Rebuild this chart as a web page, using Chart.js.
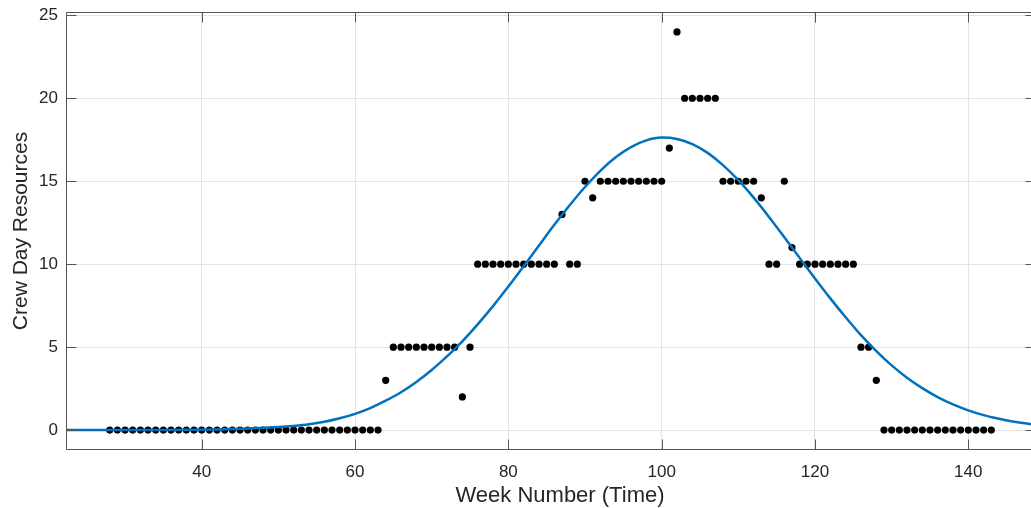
<!DOCTYPE html>
<html>
<head>
<meta charset="utf-8">
<script src="https://cdn.jsdelivr.net/npm/chart.js@4.4.1/dist/chart.umd.min.js"></script>
<style>
  html, body { margin: 0; padding: 0; background: #ffffff; overflow: hidden; }
  #wrap { width: 1031px; height: 508px; overflow: hidden; position: relative; }
  #c { position: absolute; left: 0; top: 0; }
</style>
</head>
<body>
<div id="wrap"><canvas id="c" width="1039" height="508"></canvas></div>
<script>
// Observed data: week number and crew day resources
const weeks = [28,29,30,31,32,33,34,35,36,37,38,39,40,41,42,43,44,45,46,47,48,49,50,51,52,53,54,55,56,57,58,59,60,61,62,63,
  64,65,66,67,68,69,70,71,72,73,74,75,76,77,78,79,80,81,82,83,84,85,86,87,88,89,90,91,92,93,94,95,96,97,98,99,100,
  101,102,103,104,105,106,107,108,109,110,111,112,113,114,115,116,117,118,119,120,121,122,123,124,125,126,127,128,
  129,130,131,132,133,134,135,136,137,138,139,140,141,142,143];
const resources = [0,0,0,0,0,0,0,0,0,0,0,0,0,0,0,0,0,0,0,0,0,0,0,0,0,0,0,0,0,0,0,0,0,0,0,0,
  3,5,5,5,5,5,5,5,5,5,2,5,10,10,10,10,10,10,10,10,10,10,10,13,10,10,15,14,15,15,15,15,15,15,15,15,15,
  17,24,20,20,20,20,20,15,15,15,15,15,14,10,10,15,11,10,10,10,10,10,10,10,10,5,5,3,
  0,0,0,0,0,0,0,0,0,0,0,0,0,0,0];

// Fitted curve
const fitWeeks = [22,26,30,34,38,42,46,50,52,54,56,58,60,62,64,66,68,70,72,74,76,78,80,82,84,86,88,90,92,94,96,98,100,
  102,104,106,108,110,112,114,116,118,120,122,124,126,128,130,132,134,136,138,140,142,144,146,148,150];
const fitValues = [0.00,0.00,0.00,0.01,0.02,0.04,0.09,0.18,0.25,0.35,0.50,0.71,0.98,1.33,1.77,2.28,2.90,3.62,4.44,5.35,
  6.37,7.47,8.65,9.88,11.13,12.37,13.55,14.65,15.63,16.44,17.06,17.46,17.63,17.55,17.24,16.71,15.97,15.06,14.01,12.85,
  11.63,10.38,9.14,7.94,6.80,5.72,4.76,3.90,3.16,2.53,1.99,1.55,1.19,0.90,0.68,0.50,0.37,0.27];

const xTicks = [40,60,80,100,120,140];
const yTicks = [0,5,10,15,20,25];
const xTitle = 'Week Number (Time)';
const yTitle = 'Crew Day Resources';

const FONT = '"Liberation Sans", Arial, Helvetica, sans-serif';
const TEXT = '#262626';
const AXIS = '#555555';

const pts = weeks.map((w, i) => ({ x: w, y: resources[i] }));
const fit = fitWeeks.map((w, i) => ({ x: w, y: fitValues[i] }));

const boxPlugin = {
  id: 'box',
  afterDraw(chart) {
    const { ctx, chartArea: a, scales: { x, y } } = chart;
    const L = Math.round(a.left) + 0.5, R = Math.round(a.right) + 0.5;
    const T = Math.round(a.top) + 0.5, B = Math.round(a.bottom) - 0.5;
    ctx.save();
    ctx.strokeStyle = AXIS;
    ctx.lineWidth = 1;
    ctx.beginPath();
    ctx.moveTo(L, T); ctx.lineTo(R, T);
    ctx.moveTo(L, T); ctx.lineTo(L, B);
    ctx.lineTo(R, B);
    ctx.lineTo(R, T);
    const tl = 10;
    xTicks.forEach(v => {
      const px = Math.round(x.getPixelForValue(v)) + 0.5;
      ctx.moveTo(px, B); ctx.lineTo(px, B - tl);
      ctx.moveTo(px, T); ctx.lineTo(px, T + tl);
    });
    yTicks.forEach(v => {
      const py = Math.round(y.getPixelForValue(v)) + 0.5;
      ctx.moveTo(L, py); ctx.lineTo(L + tl, py);
      ctx.moveTo(R, py); ctx.lineTo(R - tl, py);
    });
    ctx.stroke();
    // x-axis title
    ctx.fillStyle = TEXT;
    ctx.font = '22px ' + FONT;
    ctx.textAlign = 'center';
    ctx.textBaseline = 'alphabetic';
    ctx.fillText(xTitle, 560, 502);
    ctx.restore();
  }
};

new Chart(document.getElementById('c'), {
  type: 'scatter',
  data: {
    datasets: [
      {
        data: fit,
        showLine: true,
        borderColor: '#0072BD',
        borderWidth: 2.5,
        pointRadius: 0,
        fill: false,
        cubicInterpolationMode: 'monotone'
      },
      {
        data: pts,
        showLine: false,
        pointRadius: 3.6,
        pointBackgroundColor: '#000000',
        pointBorderWidth: 0,
        pointBorderColor: '#000000'
      }
    ]
  },
  options: {
    responsive: false,
    animation: false,
    devicePixelRatio: 1,
    layout: { padding: { top: 12, right: 0, left: 0, bottom: 0 } },
    plugins: { legend: { display: false }, tooltip: { enabled: false } },
    scales: {
      x: {
        type: 'linear',
        min: 22.3, max: 148.7,
        afterFit(s) { s.height = 58; s.paddingLeft = 0; s.paddingRight = 0; },
        ticks: {
          stepSize: 20, includeBounds: false, color: TEXT, padding: 12,
          font: { family: FONT, size: 17 }, maxRotation: 0
        },
        grid: { color: '#e4e4e4', drawTicks: false },
        border: { display: false },
        title: { display: false }
      },
      y: {
        type: 'linear',
        min: -1.2, max: 25.2,
        afterFit(s) { s.width = 66; s.paddingTop = 0; s.paddingBottom = 0; },
        ticks: {
          stepSize: 5, includeBounds: false, color: TEXT, padding: 8,
          font: { family: FONT, size: 17 }
        },
        grid: { color: '#e4e4e4', drawTicks: false },
        border: { display: false },
        title: { display: true, text: yTitle, color: TEXT, font: { family: FONT, size: 21 }, padding: { top: 9, bottom: 0 } }
      }
    }
  },
  plugins: [boxPlugin]
});
</script>
</body>
</html>
